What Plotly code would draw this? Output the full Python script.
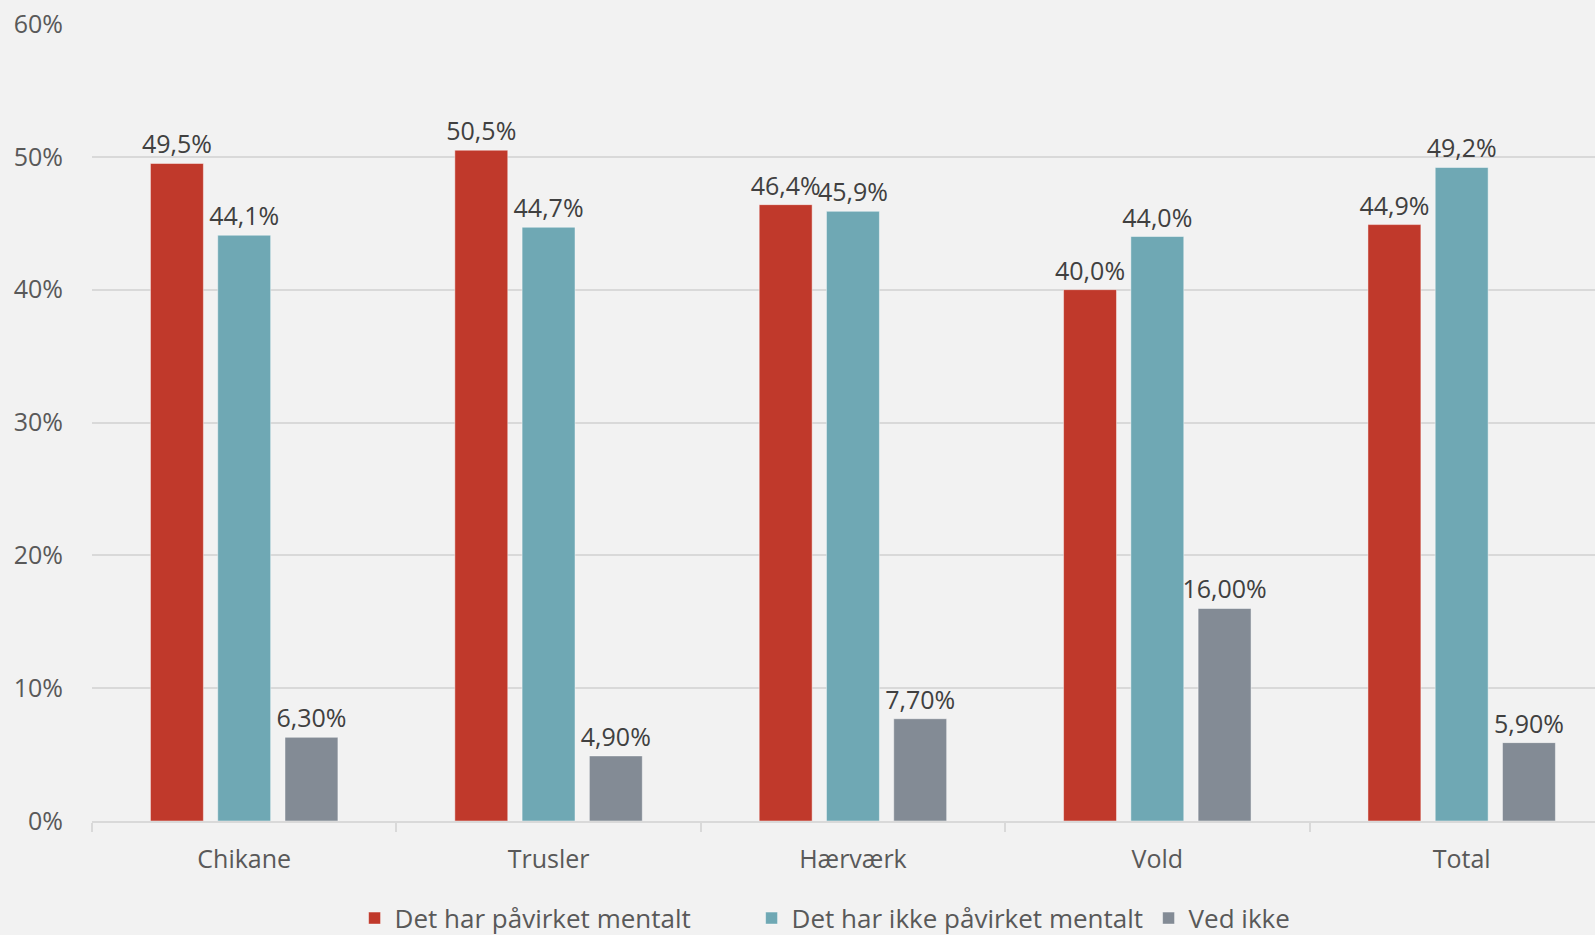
import plotly.graph_objects as go

categories = ["Chikane", "Trusler", "Hærværk", "Vold", "Total"]
mental = [49.5, 50.5, 46.4, 40.0, 44.9]
not_mental = [44.1, 44.7, 45.9, 44.0, 49.2]
dont_know = [6.3, 4.9, 7.7, 16.0, 5.9]
series_names = ["Det har påvirket mentalt", "Det har ikke påvirket mentalt", "Ved ikke"]
y_ticks = [0, 10, 20, 30, 40, 50, 60]
y_tick_labels = ["0%", "10%", "20%", "30%", "40%", "50%", "60%"]

FONT = "Open Sans"
colors = ["#C0392B", "#6FA8B4", "#838B95"]
templates = ["%{y:.1f}%", "%{y:.1f}%", "%{y:.2f}%"]

fig = go.Figure()
for name, vals, col, tmpl in zip(series_names, [mental, not_mental, dont_know], colors, templates):
    fig.add_trace(go.Bar(
        x=categories, y=vals, name=name,
        marker=dict(color=col, line=dict(color="rgba(255,255,255,0.45)", width=1)),
        texttemplate=tmpl, textposition="outside", constraintext="none",
        cliponaxis=False,
        textfont=dict(family=FONT, size=25, color="#404040"),
        hoverinfo="skip",
    ))

fig.update_layout(
    width=1595, height=935,
    paper_bgcolor="#F2F2F2", plot_bgcolor="#F2F2F2",
    separators=",.",
    barmode="group", bargap=0.337, bargroupgap=0.213,
    margin=dict(l=92, r=0, t=24, b=114, autoexpand=False),
    font=dict(family=FONT, size=25, color="#595959"),
    showlegend=True,
    legend=dict(orientation="h", x=0.1747, xanchor="left",
                yref="container", y=0.018, yanchor="middle",
                entrywidth=352, entrywidthmode="pixels",
                font=dict(family=FONT, size=26, color="#595959"),
                itemwidth=30, traceorder="normal", bgcolor="rgba(0,0,0,0)"),
)
fig.update_xaxes(
    range=[-0.5, 4.438],
    showline=True, linecolor="#D9D9D9", linewidth=2,
    ticks="outside", tickson="boundaries", ticklen=9, tickcolor="#D9D9D9", tickwidth=2,
    ticklabelstandoff=15,
    showgrid=False, tickfont=dict(family=FONT, size=25, color="#595959"),
)
fig.update_yaxes(
    range=[0, 60], tickvals=y_ticks, ticktext=y_tick_labels,
    showgrid=True, gridcolor="#D9D9D9", gridwidth=2, zeroline=False,
    showline=False, ticks="", ticklabelstandoff=28,
    tickfont=dict(family=FONT, size=25, color="#595959"),
)

fig.write_html("out.html", config={"displayModeBar": False},
               post_script="document.body.style.margin='0';document.body.style.background='#F2F2F2';")
